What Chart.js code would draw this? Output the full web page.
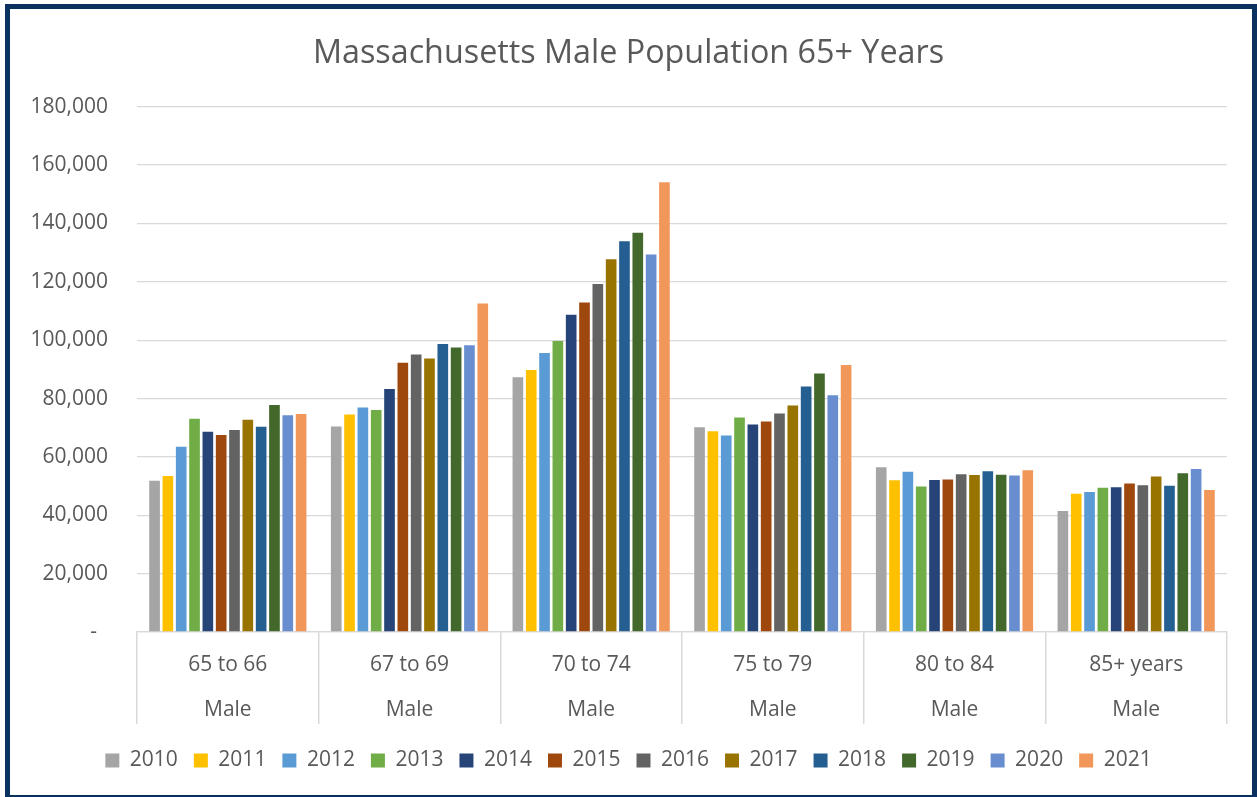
<!DOCTYPE html>
<html>
<head>
<meta charset="utf-8">
<script src="https://cdn.jsdelivr.net/npm/chart.js@4.4.1/dist/chart.umd.min.js"></script>
<style>
  html, body { margin: 0; padding: 0; background: #fff; }
  #wrap { position: relative; width: 1257px; height: 797px; overflow: hidden; }
  #frame { position: absolute; left: 5px; top: 4px; width: 1252px; height: 796px;
           box-sizing: border-box; border: 5px solid #0b3161; pointer-events: none; }
</style>
</head>
<body>
<div id="wrap">
  <canvas id="chart" width="1257" height="797"></canvas>
  <div id="frame"></div>
</div>
<script>
const FONT = '"Open Sans", "Liberation Sans", sans-serif';
const TEXT = '#595959';
const GRID = '#d9d9d9';

const categories = [
  ['65 to 66', 'Male'],
  ['67 to 69', 'Male'],
  ['70 to 74', 'Male'],
  ['75 to 79', 'Male'],
  ['80 to 84', 'Male'],
  ['85+ years', 'Male']
];
const years = ['2010', '2011', '2012', '2013', '2014', '2015', '2016', '2017', '2018', '2019', '2020', '2021'];
const colors = ['#a5a5a5', '#ffc000', '#5b9bd5', '#70ad47', '#264478', '#9e480e',
                '#636363', '#997300', '#255e91', '#43682b', '#698ed0', '#f1975a'];

const s2010 = [51800, 70400, 87300, 70200, 56500, 41500];
const s2011 = [53500, 74500, 89800, 68800, 52000, 47400];
const s2012 = [63500, 76900, 95600, 67300, 54900, 48000];
const s2013 = [73100, 76100, 99700, 73500, 49900, 49400];
const s2014 = [68600, 83300, 108700, 71100, 52100, 49600];
const s2015 = [67500, 92300, 112900, 72100, 52300, 50900];
const s2016 = [69200, 95100, 119300, 74900, 54100, 50300];
const s2017 = [72700, 93700, 127700, 77600, 53800, 53300];
const s2018 = [70300, 98700, 133900, 84100, 55100, 50100];
const s2019 = [77800, 97500, 136800, 88600, 53900, 54400];
const s2020 = [74300, 98300, 129400, 81100, 53600, 55900];
const s2021 = [74700, 112600, 154100, 91500, 55400, 48700];
const series = [s2010, s2011, s2012, s2013, s2014, s2015, s2016, s2017, s2018, s2019, s2020, s2021];

const datasets = years.map((y, i) => ({
  label: y,
  data: series[i],
  backgroundColor: colors[i],
  borderWidth: 0,
  barPercentage: 0.8,
  categoryPercentage: 0.88
}));

new Chart(document.getElementById('chart'), {
  type: 'bar',
  data: { labels: categories, datasets },
  options: {
    responsive: false,
    animation: false,
    devicePixelRatio: 1,
    layout: { padding: { left: 30, right: 30, top: 0, bottom: 16 } },
    plugins: {
      title: {
        display: true,
        text: 'Massachusetts Male Population 65+ Years',
        color: TEXT,
        font: { family: FONT, size: 32.3, weight: 'normal' },
        padding: { top: 34, bottom: 34 }
      },
      legend: {
        position: 'bottom',
        labels: {
          boxWidth: 14,
          boxHeight: 14,
          padding: 16,
          color: TEXT,
          font: { family: FONT, size: 21 }
        }
      },
      tooltip: { enabled: false }
    },
    scales: {
      x: {
        grid: { display: true, drawOnChartArea: false, drawTicks: true, tickLength: 92,
                offset: true, color: GRID, lineWidth: 1.5 },
        border: { display: true, color: GRID, width: 1.3 },
        ticks: { color: TEXT, font: { family: FONT, size: 21, lineHeight: 2.17 },
                 padding: -82, maxRotation: 0, autoSkip: false },
        afterFit: s => { s.height = 102; }
      },
      y: {
        min: 0,
        max: 180000,
        ticks: {
          stepSize: 20000,
          padding: 29,
          color: TEXT,
          font: { family: FONT, size: 21 },
          callback: v => v === 0 ? '-  ' : v.toLocaleString('en-US')
        },
        grid: { color: GRID, lineWidth: 1.3, drawTicks: false },
        border: { display: false },
        afterFit: s => { s.width = 107; }
      }
    }
  }
});
</script>
</body>
</html>
